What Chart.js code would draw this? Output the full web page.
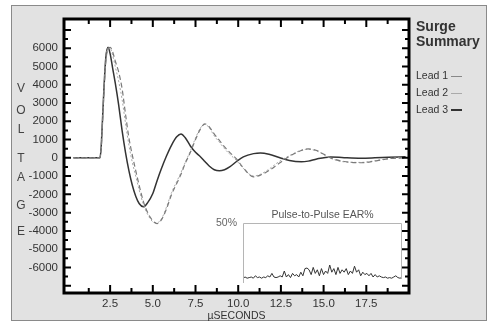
<!DOCTYPE html>
<html>
<head>
<meta charset="utf-8">
<script src="https://cdn.jsdelivr.net/npm/chart.js@4.4.1/dist/chart.umd.min.js"></script>
<style>
    body { margin: 0; background: #fff; font-family: 'Liberation Sans', Arial, sans-serif; }
    #wrap { position: relative; width: 492px; height: 322px; overflow: hidden; }
    #panel { position: absolute; left: 11px; top: 5px; width: 474px; height: 314px; background: #e2e2e2; border: 1px solid #8a8a8a; }
    canvas { position: absolute; }
    .letter { position: absolute; left: 15px; width: 12px; text-align: center; font-size: 12px; color: #444; line-height: 14px; }
    .side { position: absolute; left: 416px; color: #333; }
    .title { font-weight: bold; font-size: 14px; line-height: 15px; }
    .lead { font-size: 10.5px; line-height: 12px; }
    .lead span { display: inline-block; width: 11px; margin-left: 3px; vertical-align: middle; }
</style>
</head>
<body>
<div id="wrap">
    <div id="panel"></div>
    <canvas id="mainChart" width="492" height="322" style="left:0;top:0"></canvas>
    <canvas id="earChart" width="210" height="78" style="left:200px;top:205px"></canvas>

    <div class="letter" style="top:81px">V</div>
    <div class="letter" style="top:103px">O</div>
    <div class="letter" style="top:122px">L</div>
    <div class="letter" style="top:151px">T</div>
    <div class="letter" style="top:170px">A</div>
    <div class="letter" style="top:198px">G</div>
    <div class="letter" style="top:224px">E</div>

    <div class="side title" style="top:19px">Surge<br>Summary</div>
    <div class="side lead" style="top:69px">Lead 1<span style="border-top:1px solid #888"></span></div>
    <div class="side lead" style="top:86px">Lead 2<span style="border-top:1px solid #aaa"></span></div>
    <div class="side lead" style="top:103px">Lead 3<span style="border-top:2px solid #333"></span></div>
</div>
<script>
// Surge waveform, values (volts vs microseconds)
const timeUs = [0.35, 1.0, 1.9, 1.97, 2.05, 2.15, 2.25, 2.38, 2.5, 2.65, 2.8, 3.0, 3.2, 3.4, 3.6, 3.8,
    4.0, 4.2, 4.45, 4.7, 5.0, 5.25, 5.5, 5.8, 6.1, 6.4, 6.65, 6.9, 7.2, 7.5, 7.8, 8.05, 8.3, 8.6, 8.9,
    9.2, 9.5, 9.9, 10.3, 10.9, 11.3, 11.8, 12.4, 13.0, 13.7, 14.1, 14.6, 15.4, 16.2, 17.2, 18.0, 18.8, 19.8];

const lead1 = [0, 0, 0, 400, 1800, 3800, 5300, 5950, 6050, 5800, 5300, 4700, 3800, 2400, 1100, 150,
    -700, -1500, -2400, -3000, -3450, -3600, -3400, -2800, -2000, -1400, -900, -300, 300, 1000, 1600, 1860, 1700, 1300, 950,
    600, 300, -60, -550, -1040, -950, -700, -300, 80, 400, 490, 400, 0, -200, -270, -180, -50, 0];

const lead2 = [0, 0, 0, 450, 1900, 3900, 5400, 6000, 6000, 5600, 5000, 4200, 3200, 1900, 700, -250,
    -1000, -1750, -2550, -3100, -3500, -3550, -3350, -2700, -1900, -1300, -800, -250, 380, 1080, 1650, 1830, 1650, 1200, 850,
    500, 200, -150, -580, -1000, -900, -620, -200, 120, 420, 470, 370, -20, -220, -250, -160, -40, 10];

const lead3 = [0, 0, 0, 500, 2000, 4000, 5500, 6050, 5700, 4900, 4100, 2900, 1500, 300, -700, -1500,
    -2100, -2500, -2680, -2450, -1950, -1250, -600, 100, 700, 1150, 1310, 1100, 650, 300, 50, -200, -450, -650, -710,
    -650, -500, -200, 50, 230, 270, 200, 20, -150, -220, -180, -60, 50, 10, -20, 0, 30, 60];

const xTickLabels = ['2.5', '5.0', '7.5', '10.0', '12.5', '15.0', '17.5'];
const yTickLabels = ['6000', '5000', '4000', '3000', '2000', '1000', '0', '-1000', '-2000', '-3000', '-4000', '-5000', '-6000'];

// Pulse-to-pulse EAR% trace (inset)
const earPercent = [4, 5, 4, 4.5, 5, 4, 6, 4.5, 5, 4, 5,
    4.5, 6, 5, 8, 5, 4.5, 5, 6, 5, 10,
    5, 7, 4.5, 8, 6, 7, 5, 9, 6, 12,
    12.5, 11, 7, 13, 8, 11, 6, 12, 7, 10,
    8, 15, 9, 12, 7, 13, 8, 11, 9, 12,
    7, 10, 8, 14, 9, 11, 6, 9, 7, 8,
    6, 8, 5, 7, 5, 6, 5, 4.5, 5, 4,
    4.5, 4, 5, 6, 4.5, 4, 4.5];
const earTickLabels = ['50%'];

Chart.defaults.font.family = "'Liberation Sans', Arial, sans-serif";
Chart.defaults.color = '#333';

// white plot area, thick frame and inward tick marks on all four sides
const framePlugin = {
    id: 'frame',
    beforeDraw(chart) {
        const {ctx, chartArea: a} = chart;
        ctx.save();
        ctx.fillStyle = '#fff';
        ctx.fillRect(a.left, a.top, a.right - a.left, a.bottom - a.top);
        ctx.restore();
    },
    afterDraw(chart) {
        const {ctx, chartArea: a, scales} = chart;
        ctx.save();
        ctx.strokeStyle = '#000';
        ctx.lineWidth = 2;
        ctx.beginPath();
        for (let k = 1; k <= 15; k++) {
            const px = scales.x.getPixelForValue(k * 1.25);
            const len = k % 2 === 0 ? 8 : 5;
            ctx.moveTo(px, a.top); ctx.lineTo(px, a.top + len);
            ctx.moveTo(px, a.bottom); ctx.lineTo(px, a.bottom - len);
        }
        for (let v = -7000; v <= 7000; v += 500) {
            const py = scales.y.getPixelForValue(v);
            const len = v % 1000 === 0 ? 7 : 4;
            ctx.moveTo(a.left, py); ctx.lineTo(a.left + len, py);
            ctx.moveTo(a.right, py); ctx.lineTo(a.right - len, py);
        }
        ctx.stroke();
        ctx.lineWidth = 3;
        ctx.strokeRect(a.left, a.top, a.right - a.left, a.bottom - a.top);
        ctx.restore();
    }
};

function leadData(values) {
    return timeUs.map((t, i) => ({x: t, y: values[i]}));
}

new Chart(document.getElementById('mainChart'), {
    type: 'line',
    data: {
        datasets: [
            {
                label: 'Lead 1',
                data: leadData(lead1),
                borderColor: '#7a7a7a',
                borderWidth: 1.2,
                borderDash: [5, 3]
            },
            {
                label: 'Lead 2',
                data: leadData(lead2),
                borderColor: '#a8a8a8',
                borderWidth: 1,
                borderDash: [2, 2]
            },
            {
                label: 'Lead 3',
                data: leadData(lead3),
                borderColor: '#333',
                borderWidth: 1.5
            }
        ]
    },
    options: {
        responsive: false,
        animation: false,
        layout: {
            padding: {left: 0, top: 19, right: 83, bottom: 0}
        },
        elements: {
            point: {radius: 0},
            line: {cubicInterpolationMode: 'monotone'}
        },
        plugins: {
            legend: {display: false},
            tooltip: {enabled: false}
        },
        scales: {
            x: {
                type: 'linear',
                min: -0.2,
                max: 20,
                grid: {display: false, drawTicks: false},
                border: {display: false},
                afterBuildTicks: s => { s.ticks = xTickLabels.map(l => ({value: parseFloat(l)})); },
                afterFit: s => { s.height = 29; },
                ticks: {
                    autoSkip: false,
                    maxRotation: 0,
                    padding: 4,
                    font: {size: 11.5},
                    color: '#333',
                    callback: (v, i) => xTickLabels[i]
                },
                title: {
                    display: true,
                    text: 'µSECONDS',
                    font: {size: 10.5},
                    color: '#333',
                    padding: {top: 0, bottom: 0}
                }
            },
            y: {
                min: -7400,
                max: 7600,
                grid: {display: false, drawTicks: false},
                border: {display: false},
                afterBuildTicks: s => { s.ticks = yTickLabels.map(l => ({value: Number(l)})); },
                afterFit: s => { s.width = 64; },
                ticks: {
                    autoSkip: false,
                    padding: 6,
                    font: {size: 11.5},
                    color: '#333',
                    callback: (v, i) => yTickLabels[i]
                }
            }
        }
    },
    plugins: [framePlugin]
});

// Inset: light frame on left, top and right
const insetFramePlugin = {
    id: 'insetFrame',
    afterDraw(chart) {
        const {ctx, chartArea: a} = chart;
        ctx.save();
        ctx.strokeStyle = '#b5b5b5';
        ctx.lineWidth = 1;
        ctx.beginPath();
        ctx.moveTo(a.left + 0.5, a.bottom);
        ctx.lineTo(a.left + 0.5, a.top + 0.5);
        ctx.lineTo(a.right - 0.5, a.top + 0.5);
        ctx.lineTo(a.right - 0.5, a.bottom - 4);
        ctx.stroke();
        ctx.restore();
    }
};

new Chart(document.getElementById('earChart'), {
    type: 'line',
    data: {
        labels: earPercent.map((v, i) => i),
        datasets: [{
            data: earPercent,
            borderColor: '#333',
            borderWidth: 1,
            pointRadius: 0,
            tension: 0
        }]
    },
    options: {
        responsive: false,
        animation: false,
        layout: {
            padding: {left: 0, top: 0, right: 8, bottom: 0}
        },
        plugins: {
            legend: {display: false},
            tooltip: {enabled: false},
            title: {
                display: true,
                text: 'Pulse-to-Pulse EAR%',
                fullSize: false,
                color: '#555',
                font: {size: 10.5, weight: 'normal'},
                padding: {top: 4, bottom: 1.4}
            }
        },
        scales: {
            x: {
                display: false,
                offset: false
            },
            y: {
                min: 0,
                max: 50,
                grid: {display: false, drawTicks: false},
                border: {display: false},
                afterBuildTicks: s => { s.ticks = earTickLabels.map(l => ({value: parseFloat(l)})); },
                afterFit: s => { s.width = 43; s.paddingTop = 0; s.paddingBottom = 0; },
                ticks: {
                    padding: 6,
                    font: {size: 10.5},
                    color: '#666',
                    callback: (v, i) => earTickLabels[i]
                }
            }
        }
    },
    plugins: [insetFramePlugin]
});
</script>
</body>
</html>
